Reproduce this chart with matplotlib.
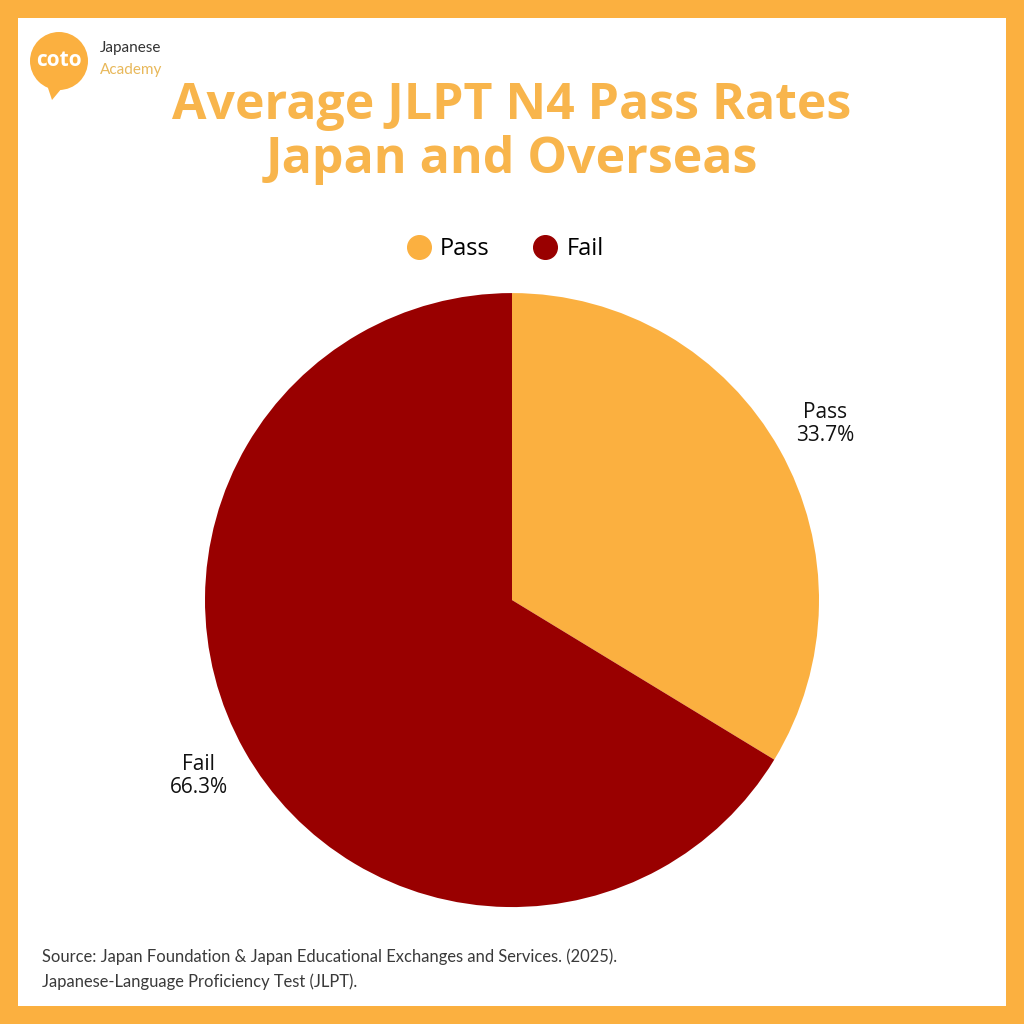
import matplotlib.pyplot as plt
from matplotlib.patches import Rectangle, Circle, Polygon
from matplotlib.lines import Line2D

labels = ["Pass", "Fail"]
rates = [33.7, 66.3]
colors = ["#FBB040", "#990000"]

orange = "#FBB040"
title_color = "#F8B54C"

fig = plt.figure(figsize=(10.24, 10.24), dpi=100)
fig.patch.set_facecolor(orange)
# white inner card
fig.patches.append(Rectangle((18 / 1024, 18 / 1024), 988 / 1024, 988 / 1024,
                             transform=fig.transFigure, facecolor="white",
                             edgecolor="none", zorder=-10))

# pie
ax = fig.add_axes([0.5 - 0.2998, 0.414 - 0.2998, 0.5996, 0.5996])
ax.set_zorder(5)
wedges, texts = ax.pie(rates, colors=colors, startangle=90, counterclock=False,
                       labels=[f"{l}\n{v}%" for l, v in zip(labels, rates)],
                       labeldistance=1.17,
                       textprops=dict(fontsize=15, family="Open Sans", color="#111111"))
for t in texts:
    t.set_ha("center")
    t.set_va("center")
    t.set_linespacing(1.15)
ax.set_xlim(-1, 1)
ax.set_ylim(-1, 1)
ax.set_aspect("equal")
ax.axis("off")

# title
fig.text(0.5, 1 - 133 / 1024, "Average JLPT N4 Pass Rates\nJapan and Overseas",
         ha="center", va="center", fontsize=36, fontweight="bold",
         family="Open Sans", color=title_color, linespacing=1.08)

# legend
handles = [Line2D([], [], marker="o", linestyle="none", markersize=17,
                  markerfacecolor=c, markeredgecolor=c) for c in colors]
fig.legend(handles, labels, loc="center", bbox_to_anchor=(504 / 1024, 1 - 249 / 1024),
           ncol=2, frameon=False, handlelength=1.2, handletextpad=0.3,
           columnspacing=1.75, prop=dict(family="Open Sans", size=17))

# logo
fig.patches.append(Circle((59 / 1024, 1 - 61 / 1024), 29 / 1024,
                          transform=fig.transFigure, facecolor=orange,
                          edgecolor="none", zorder=2))
fig.patches.append(Polygon([(46 / 1024, 1 - 82 / 1024), (62 / 1024, 1 - 88 / 1024),
                            (52 / 1024, 1 - 100 / 1024)],
                           transform=fig.transFigure, facecolor=orange,
                           edgecolor="none", zorder=2))
fig.text(59 / 1024, 1 - 60 / 1024, "coto", ha="center", va="center",
         fontsize=15, fontweight="bold", color="white", family="Open Sans", zorder=3)
fig.text(100 / 1024, 1 - 48 / 1024, "Japanese", ha="left", va="center",
         fontsize=11, color="#333333", family="Lato")
fig.text(100 / 1024, 1 - 70 / 1024, "Academy", ha="left", va="center",
         fontsize=11, color="#E8B85A", family="Lato")

# source
fig.text(42 / 1024, 1 - 957 / 1024,
         "Source: Japan Foundation & Japan Educational Exchanges and Services. (2025).",
         ha="left", va="center", fontsize=11.9, color="#3a3a3a", family="Lato")
fig.text(42 / 1024, 1 - 982 / 1024, "Japanese-Language Proficiency Test (JLPT).",
         ha="left", va="center", fontsize=11.9, color="#3a3a3a", family="Lato")

fig.savefig("out.png", dpi=100)
